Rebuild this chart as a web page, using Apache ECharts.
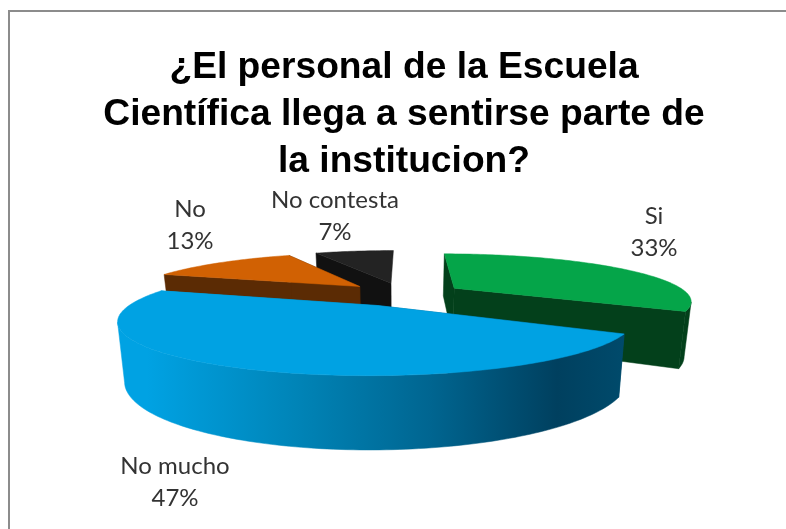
<!DOCTYPE html>
<html>
<head>
<meta charset="utf-8">
<style>html,body{margin:0;padding:0;background:#fff}#chart{width:786px;height:529px}</style>
<script src="https://cdn.jsdelivr.net/npm/echarts@6/dist/echarts.min.js"></script>
</head>
<body>
<div id="chart"></div>
<script>
// Survey answers, in percent, clockwise from twelve o'clock
const categories = ['Si', 'No mucho', 'No', 'No contesta'];
const percents = [33, 47, 13, 7];
const topColors = ['#05a549', '#00a2e3', '#d16103', '#232323'];
const wallColors = ['#03401b', null, '#5b2b04', '#111111'];
const labelAnchors = [[654, 232], [175, 482], [190, 225], [335, 216]];
const titleText = '¿El personal de la Escuela\nCientífica llega a sentirse parte de\nla institucion?';

// Perspective pie model: unit disc on a tilted plane, seen from above and in front
const view = { cx: 403.5, cy: 294, a: 234, b: 45.5, k: 0.25, depth: 54, sink: 0.025, explode: 0.26 };

function project(X, Y, lower) {
  const w = (1 - view.k * Y) * (1 + view.sink * lower);
  return [view.cx + view.a * X / w, view.cy + (view.b * Y + view.depth * lower) / w];
}

const total = percents.reduce((s, v) => s + v, 0);

function sliceAngles(index) {
  let before = 0;
  for (let i = 0; i < index; i++) before += percents[i];
  const start = before / total * 2 * Math.PI;
  return [start, start + percents[index] / total * 2 * Math.PI];
}

const blueWall = new echarts.graphic.LinearGradient(122, 0, 622, 0, [
  { offset: 0, color: '#00a2e3' },
  { offset: 0.05, color: '#00a2e3' },
  { offset: 0.35, color: '#0084b7' },
  { offset: 0.62, color: '#006590' },
  { offset: 0.87, color: '#00405f' },
  { offset: 1, color: '#004a6b' }
], true);

function renderSlice(params, api) {
  const i = params.dataIndex;
  const [start, end] = sliceAngles(i);
  const mid = (start + end) / 2;
  const ox = view.explode * Math.sin(mid);
  const oy = -view.explode * Math.cos(mid);
  const rim = (t, lower) => project(ox + Math.sin(t), oy - Math.cos(t), lower);
  const hub = lower => project(ox, oy, lower);

  const steps = Math.max(8, Math.round((end - start) / 0.02));
  const angles = [];
  for (let s = 0; s <= steps; s++) angles.push(start + (end - start) * s / steps);

  const face = [hub(0)].concat(angles.map(t => rim(t, 0)));
  const wall = wallColors[i] || blueWall;
  const base = Math.round(100 * (2 - Math.cos(mid))) * 10;
  const children = [];
  const add = (points, fill) => children.push({
    type: 'polygon',
    z2: base + children.length,
    shape: { points },
    style: { fill, stroke: fill, lineWidth: 0.5 }
  });

  // Cut faces behind the rim, then the part of the rim turned to the viewer, then the lid.
  // A cut face seen almost edge-on contributes nothing and is left out.
  [start, end].forEach(t => {
    if (Math.abs(hub(0)[0] - rim(t, 0)[0]) > 4) {
      add([hub(0), rim(t, 0), rim(t, 1), hub(1)], wall);
    }
  });
  const front = angles.filter(t => rim(t + 0.01, 0)[0] < rim(t - 0.01, 0)[0]);
  if (front.length > 1) {
    add(front.map(t => rim(t, 0)).concat(front.slice().reverse().map(t => rim(t, 1))), wall);
  }
  add(face, topColors[i]);

  const anchor = labelAnchors[i];
  children.push({
    type: 'text',
    z2: 100000,
    style: {
      x: anchor[0],
      y: anchor[1],
      text: categories[i] + '\n' + api.value(0) + '%',
      fill: '#333333',
      font: '24px Lato',
      lineHeight: 32,
      align: 'center',
      verticalAlign: 'middle'
    }
  });
  return { type: 'group', children };
}

const chart = echarts.init(document.getElementById('chart'), null, { renderer: 'canvas' });
chart.setOption({
  animation: false,
  backgroundColor: '#ffffff',
  title: {
    text: titleText,
    left: 399,
    top: 39,
    textAlign: 'center',
    textStyle: {
      fontFamily: 'Liberation Sans',
      fontWeight: 'bold',
      fontSize: 37.2,
      lineHeight: 47,
      color: '#000000'
    }
  },
  graphic: [{
    type: 'polyline',
    silent: true,
    shape: { points: [[786, 11], [9, 11], [9, 529]] },
    style: { fill: null, stroke: '#8c8c8c', lineWidth: 2 }
  }],
  series: [{
    type: 'custom',
    coordinateSystem: 'none',
    renderItem: renderSlice,
    silent: true,
    data: percents.map(v => [v])
  }]
});
</script>
</body>
</html>
